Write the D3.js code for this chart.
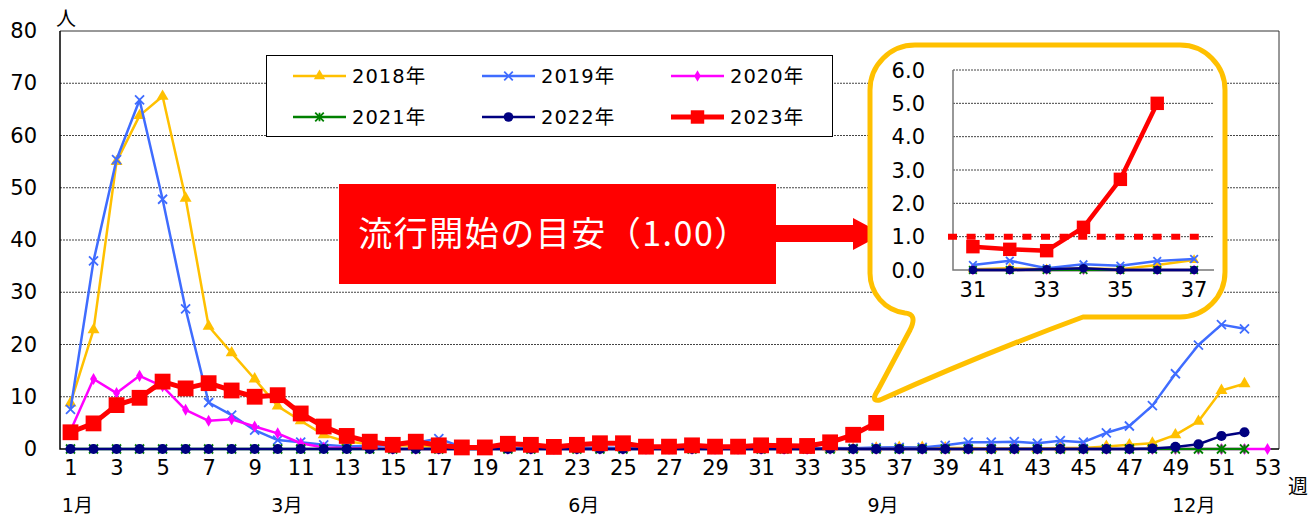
<!DOCTYPE html>
<html>
<head>
<meta charset="utf-8">
<script src="https://cdn.jsdelivr.net/npm/d3@7"></script>
<style>
  body { margin: 0; background: #fff; }
  svg { display: block; font-family: "DejaVu Sans", "Noto Sans CJK JP", sans-serif; }
</style>
</head>
<body>
<svg id="chart" width="1309" height="519"></svg>
<script>
// ---- data (weekly reports per sentinel, by year) ----
const years = ["2018年", "2019年", "2020年", "2021年", "2022年", "2023年"];

const cases2018 = [8.8, 22.8, 55.0, 63.8, 67.5, 48.0, 23.5, 18.4, 13.4, 8.2,
  5.4, 2.7, 1.4, 1.0, 0.7, 0.6, 0.4, 0.3, 0.3, 0.2,
  0.3, 0.2, 0.2, 0.2, 0.1, 0.1, 0.1, 0.1, 0.1, 0.1,
  0.02, 0.05, 0.02, 0.05, 0.02, 0.15, 0.3, 0.3, 0.2, 0.2,
  0.1, 0.1, 0.1, 0.2, 0.2, 0.5, 0.8, 1.1, 2.7, 5.3,
  11.2, 12.5];

const cases2019 = [7.6, 36.0, 55.4, 66.8, 47.8, 26.8, 8.9, 6.5, 3.6, 1.7,
  1.3, 0.8, 0.5, 0.6, 0.7, 1.2, 2.0, 0.4, 0.3, 0.2,
  0.2, 0.2, 0.2, 0.3, 0.2, 0.1, 0.2, 0.1, 0.1, 0.1,
  0.15, 0.28, 0.05, 0.17, 0.13, 0.27, 0.33, 0.3, 0.7, 1.3,
  1.3, 1.4, 1.1, 1.6, 1.3, 3.1, 4.4, 8.3, 14.4, 19.9,
  23.8, 23.0];

const cases2020 = [3.5, 13.4, 10.7, 14.0, 12.0, 7.5, 5.4, 5.7, 4.3, 3.0,
  1.1, 0.3, 0.2, 0.1, 0, 0, 0, 0, 0, 0,
  0, 0, 0, 0, 0, 0, 0, 0, 0, 0,
  0, 0, 0, 0, 0, 0, 0, 0, 0, 0,
  0, 0, 0, 0, 0, 0, 0, 0, 0, 0,
  0, 0, 0];

const cases2021 = [0, 0, 0, 0, 0, 0, 0, 0, 0, 0,
  0, 0, 0, 0, 0, 0, 0, 0, 0, 0,
  0, 0, 0, 0, 0, 0, 0, 0, 0, 0,
  0, 0, 0, 0, 0, 0, 0, 0, 0, 0,
  0, 0, 0, 0, 0, 0, 0, 0, 0, 0,
  0, 0];

const cases2022 = [0, 0, 0, 0, 0, 0, 0, 0, 0, 0,
  0, 0, 0, 0, 0, 0, 0, 0, 0, 0,
  0, 0, 0, 0, 0, 0, 0, 0, 0, 0,
  0, 0, 0.02, 0.05, 0, 0, 0, 0, 0, 0,
  0, 0, 0, 0, 0, 0, 0, 0.1, 0.4, 0.9,
  2.5, 3.2];

const cases2023 = [3.2, 4.9, 8.4, 9.8, 12.9, 11.6, 12.6, 11.2, 10.0, 10.3,
  6.8, 4.3, 2.5, 1.4, 0.8, 1.4, 0.7, 0.3, 0.3, 1.0,
  0.8, 0.4, 0.8, 1.1, 1.1, 0.45, 0.45, 0.7, 0.45, 0.45,
  0.7, 0.62, 0.58, 1.28, 2.72, 5.0];

const yTicks = [0, 10, 20, 30, 40, 50, 60, 70, 80];
const xTickWeeks = [1, 3, 5, 7, 9, 11, 13, 15, 17, 19, 21, 23, 25, 27, 29, 31, 33, 35, 37, 39, 41, 43, 45, 47, 49, 51, 53];
const monthLabels = ["1月", "3月", "6月", "9月", "12月"];
const monthWeeks = [1.3, 10.4, 23.3, 36.3, 49.8];

const insetYTicks = [0, 1, 2, 3, 4, 5, 6];
const insetXTicks = [31, 33, 35, 37];
const threshold = 1.0;
const annotation = "流行開始の目安（1.00）";

// ---- styles ----
const series = [
  { name: years[0], values: cases2018, color: "#FFC000", width: 2.5, mark: "tri" },
  { name: years[1], values: cases2019, color: "#3F6CFF", width: 2.5, mark: "x" },
  { name: years[2], values: cases2020, color: "#FF00FF", width: 2.5, mark: "dia" },
  { name: years[3], values: cases2021, color: "#008000", width: 2.5, mark: "star" },
  { name: years[4], values: cases2022, color: "#000080", width: 2.5, mark: "dot" },
  { name: years[5], values: cases2023, color: "#FF0000", width: 5, mark: "sq" }
];

function markPath(type, k) {
  const h = 4.5 * k;
  switch (type) {
    case "tri": return d3.symbol(d3.symbolTriangle, 62 * k * k)();
    case "dia": return d3.symbol(d3.symbolDiamond, 42 * k * k)();
    case "dot": return d3.symbol(d3.symbolCircle, 80 * k * k)();
    case "sq": return d3.symbol(d3.symbolSquare, 250 * k * k)();
    case "x": return `M${-h},${-h}L${h},${h}M${-h},${h}L${h},${-h}`;
    case "star": return `M${-h},${-h}L${h},${h}M${-h},${h}L${h},${-h}M0,${-h}L0,${h}`;
  }
}

function drawMarks(g, s, pts, xs, ys, k) {
  const isStroke = s.mark === "x" || s.mark === "star";
  g.selectAll(null)
    .data(pts)
    .join("path")
    .attr("transform", d => `translate(${xs(d.w)},${ys(d.v)})`)
    .attr("d", markPath(s.mark, k))
    .attr("fill", isStroke ? "none" : s.color)
    .attr("stroke", isStroke ? s.color : "none")
    .attr("stroke-width", 1.8);
}

const svg = d3.select("#chart");

// ---- main chart ----
const x = d3.scaleLinear().domain([0.5, 53.5]).range([59, 1279]);
const y = d3.scaleLinear().domain([0, 80]).range([449, 31]);

svg.append("g")
  .selectAll("line")
  .data(yTicks.filter(v => v > 0 && v < 80))
  .join("line")
  .attr("x1", 60).attr("x2", 1279)
  .attr("y1", d => y(d)).attr("y2", d => y(d))
  .attr("stroke", "#444").attr("stroke-width", 1).attr("stroke-dasharray", "2,1");

// frame
svg.append("path")
  .attr("d", `M60,${y(80)}H1279V${y(0)}`)
  .attr("fill", "none").attr("stroke", "#333").attr("stroke-width", 1);
svg.append("path")
  .attr("d", `M60,${y(80)}V${y(0)}H1279`)
  .attr("fill", "none").attr("stroke", "#000").attr("stroke-width", 1.5);

// axes
const yAxis = svg.append("g")
  .attr("transform", "translate(60,0)")
  .call(d3.axisLeft(y).tickValues(yTicks).tickSize(0).tickPadding(23));
yAxis.select(".domain").remove();
yAxis.selectAll("text").attr("font-size", 21).attr("fill", "#000")
  .attr("font-family", "DejaVu Sans, Noto Sans CJK JP");

const xAxis = svg.append("g")
  .attr("transform", `translate(0,${y(0)})`)
  .call(d3.axisBottom(x).tickValues(xTickWeeks).tickSize(0).tickPadding(11));
xAxis.select(".domain").remove();
xAxis.selectAll("text").attr("font-size", 21).attr("fill", "#000")
  .attr("font-family", "DejaVu Sans, Noto Sans CJK JP");

svg.append("text").attr("x", 66).attr("y", 26).attr("text-anchor", "middle")
  .attr("font-size", 20).text("人");
svg.append("text").attr("x", 1298).attr("y", 494).attr("text-anchor", "middle")
  .attr("font-size", 20).text("週");

svg.append("g")
  .selectAll("text")
  .data(monthLabels)
  .join("text")
  .attr("x", (d, i) => x(monthWeeks[i]))
  .attr("y", 512)
  .attr("text-anchor", "middle")
  .attr("font-size", 19)
  .text(d => d);

// lines
const mainG = svg.append("g");
series.forEach(s => {
  const pts = s.values.map((v, i) => ({ w: i + 1, v: v }));
  const line = d3.line().x(d => x(d.w)).y(d => y(d.v));
  mainG.append("path").datum(pts)
    .attr("d", line)
    .attr("fill", "none").attr("stroke", s.color)
    .attr("stroke-width", s.width).attr("stroke-linejoin", "round");
  drawMarks(mainG.append("g"), s, pts, x, y, 1);
});

// ---- legend ----
const legend = svg.append("g");
legend.append("rect")
  .attr("x", 266.5).attr("y", 55.5).attr("width", 566).attr("height", 81)
  .attr("fill", "#fff").attr("stroke", "#000").attr("stroke-width", 1);
const legCols = [293, 482, 671];
const legRows = [76, 117];
series.forEach((s, i) => {
  const lx = legCols[i % 3], ly = legRows[Math.floor(i / 3)];
  const g = legend.append("g");
  g.append("line").attr("x1", lx).attr("x2", lx + 53).attr("y1", ly).attr("y2", ly)
    .attr("stroke", s.color).attr("stroke-width", s.width);
  drawMarks(g, s, [{ w: lx + 26.5, v: ly }], d => d, d => d, s.mark === "sq" ? 0.85 : 0.95);
  g.append("text").attr("x", lx + 59).attr("y", ly + 7)
    .attr("font-size", 19.5).attr("letter-spacing", 1).text(s.name);
});

// ---- annotation box + arrow ----
svg.append("rect")
  .attr("x", 339).attr("y", 184).attr("width", 437).attr("height", 100)
  .attr("fill", "#FF0000");
svg.append("text")
  .attr("x", 554).attr("y", 246).attr("text-anchor", "middle")
  .attr("font-size", 34).attr("letter-spacing", 1.5).attr("fill", "#fff")
  .attr("font-family", "Noto Sans CJK JP, sans-serif")
  .text(annotation);
svg.append("path")
  .attr("d", "M775,225H853V218L883,234L853,250V242H775Z")
  .attr("fill", "#FF0000");

// ---- callout with zoomed inset ----
svg.append("path")
  .attr("d", "M915,45H1180A45,45 0 0 1 1225,90V272A45,45 0 0 1 1180,317H1083" +
    "Q980,355 880,400Q870,402 878,390L910,330Q918,314 905,313" +
    "A40,40 0 0 1 870,273V90A45,45 0 0 1 915,45Z")
  .attr("fill", "#fff").attr("stroke", "#FFC000").attr("stroke-width", 5)
  .attr("stroke-linejoin", "round");

const xi = d3.scaleLinear().domain([30.46, 37.54]).range([953, 1214]);
const yi = d3.scaleLinear().domain([0, 6]).range([270, 70]);

const inset = svg.append("g");
inset.selectAll("line.grid")
  .data(insetYTicks.filter(v => v > 0))
  .join("line")
  .attr("x1", 953).attr("x2", 1214)
  .attr("y1", d => yi(d)).attr("y2", d => yi(d))
  .attr("stroke", "#444").attr("stroke-dasharray", "2,1");
inset.append("path")
  .attr("d", `M953,${yi(6)}V${yi(0)}H1214`)
  .attr("fill", "none").attr("stroke", "#777").attr("stroke-width", 1.5);

inset.selectAll("text.yl")
  .data(insetYTicks)
  .join("text")
  .attr("x", 925).attr("y", d => yi(d) + 7.5)
  .attr("text-anchor", "end").attr("font-size", 21)
  .text(d => d.toFixed(1));
inset.selectAll("text.xl")
  .data(insetXTicks)
  .join("text")
  .attr("x", d => xi(d)).attr("y", 297)
  .attr("text-anchor", "middle").attr("font-size", 21)
  .text(d => d);

// threshold
inset.append("line")
  .attr("x1", 948).attr("x2", 1204)
  .attr("y1", yi(threshold)).attr("y2", yi(threshold))
  .attr("stroke", "#FF0000").attr("stroke-width", 6).attr("stroke-dasharray", "9,9.6");

series.forEach(s => {
  const pts = s.values.map((v, i) => ({ w: i + 1, v: v })).filter(d => d.w >= 31 && d.w <= 37);
  const line = d3.line().x(d => xi(d.w)).y(d => yi(d.v));
  inset.append("path").datum(pts)
    .attr("d", line)
    .attr("fill", "none").attr("stroke", s.color)
    .attr("stroke-width", s.mark === "sq" ? 4.5 : 2.5).attr("stroke-linejoin", "round");
  drawMarks(inset.append("g"), s, pts, xi, yi, 0.85);
});
</script>
</body>
</html>
